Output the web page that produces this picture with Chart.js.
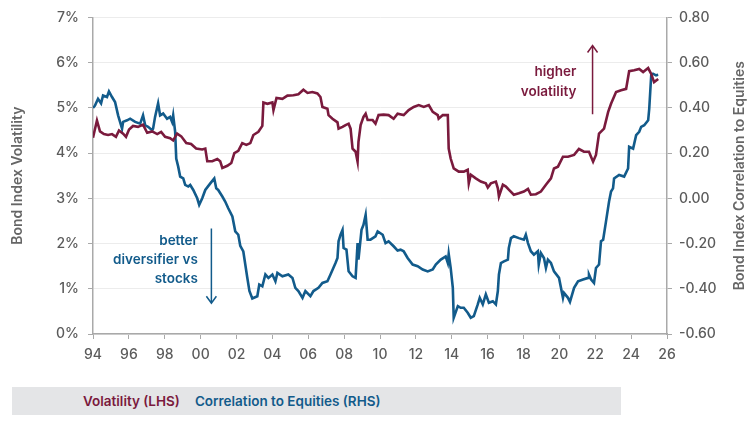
<!DOCTYPE html>
<html>
<head>
<meta charset="utf-8">
<script src="https://cdn.jsdelivr.net/npm/chart.js@4.4.1/dist/chart.umd.min.js"></script>
<style>
    body { margin: 0; background: #fff; }
    #wrap { position: relative; width: 750px; height: 431px; }
    #legend {
        position: absolute; left: 12px; top: 387px; width: 609px; height: 28px;
        background: #e4e5e7; font: 600 13.5px Inter, sans-serif; line-height: 28px;
        box-sizing: border-box; padding-left: 71px; white-space: nowrap;
    }
    #legend span { margin-right: 15px; }
</style>
</head>
<body>
<div id="wrap">
    <canvas id="bondChart" width="750" height="431"></canvas>
    <div id="legend">
        <span style="color:#7a1a3d">Volatility (LHS)</span><span style="color:#125b8b">Correlation to Equities (RHS)</span>
    </div>
</div>
<script>
// Series data (decimal year, value)
const volYears = [
    1994.00, 1994.22, 1994.39, 1994.61, 1994.84, 1995.06, 1995.28, 1995.45, 1995.68, 1995.84,
    1996.01, 1996.23, 1996.51, 1996.79, 1997.02, 1997.30, 1997.58, 1997.80, 1998.02, 1998.30,
    1998.47, 1998.69, 1998.92, 1999.20, 1999.47, 1999.75, 2000.09, 2000.26, 2000.37, 2000.65,
    2000.93, 2001.09, 2001.21, 2001.49, 2001.71, 2001.88, 2002.10, 2002.32, 2002.55, 2002.77,
    2002.94, 2003.22, 2003.44, 2003.50, 2003.72, 2004.00, 2004.06, 2004.23, 2004.56, 2004.84,
    2005.17, 2005.45, 2005.73, 2005.96, 2006.23, 2006.51, 2006.68, 2006.79, 2007.07, 2007.13,
    2007.35, 2007.63, 2007.69, 2007.91, 2008.08, 2008.25, 2008.36, 2008.47, 2008.64, 2008.75,
    2008.80, 2008.92, 2009.08, 2009.20, 2009.31, 2009.59, 2009.75, 2009.92, 2010.20, 2010.48,
    2010.76, 2010.98, 2011.32, 2011.60, 2011.88, 2012.16, 2012.44, 2012.72, 2012.94, 2013.22,
    2013.27, 2013.50, 2013.78, 2013.83, 2013.94, 2014.11, 2014.39, 2014.67, 2014.89, 2014.95,
    2015.06, 2015.34, 2015.62, 2015.90, 2016.01, 2016.18, 2016.46, 2016.57, 2016.63, 2016.85,
    2017.02, 2017.18, 2017.46, 2017.74, 2018.02, 2018.25, 2018.41, 2018.69, 2018.97, 2019.25,
    2019.53, 2019.70, 2019.92, 2020.20, 2020.48, 2020.82, 2021.09, 2021.37, 2021.65, 2021.88,
    2022.04, 2022.21, 2022.49, 2022.72, 2022.88, 2023.16, 2023.44, 2023.72, 2023.89, 2024.17,
    2024.45, 2024.67, 2024.95, 2025.12, 2025.28, 2025.51
];
const volValues = [
    4.34, 4.72, 4.48, 4.42, 4.40, 4.42, 4.36, 4.50, 4.43, 4.36,
    4.52, 4.60, 4.58, 4.63, 4.45, 4.48, 4.42, 4.47, 4.36, 4.33,
    4.28, 4.43, 4.37, 4.22, 4.20, 4.10, 4.08, 4.10, 3.82, 3.82,
    3.87, 3.82, 3.67, 3.72, 3.78, 4.00, 4.05, 4.22, 4.18, 4.22,
    4.40, 4.47, 4.60, 5.12, 5.09, 5.12, 4.95, 5.22, 5.20, 5.27,
    5.28, 5.30, 5.40, 5.33, 5.35, 5.32, 5.24, 5.02, 4.98, 4.84,
    4.76, 4.68, 4.54, 4.58, 4.62, 4.65, 4.54, 4.10, 4.03, 3.81,
    4.25, 4.62, 4.80, 4.87, 4.73, 4.73, 4.65, 4.84, 4.85, 4.84,
    4.76, 4.87, 4.84, 4.95, 5.02, 5.06, 5.02, 5.06, 4.91, 4.84,
    4.76, 4.84, 4.84, 4.10, 3.88, 3.66, 3.59, 3.59, 3.63, 3.33,
    3.52, 3.44, 3.37, 3.33, 3.24, 3.33, 3.37, 3.22, 3.04, 3.30,
    3.26, 3.19, 3.08, 3.11, 3.15, 3.21, 3.08, 3.09, 3.15, 3.30,
    3.44, 3.66, 3.70, 3.92, 3.92, 3.96, 4.09, 4.03, 4.03, 3.81,
    3.96, 4.43, 4.54, 4.91, 5.09, 5.35, 5.39, 5.42, 5.81, 5.83,
    5.86, 5.79, 5.88, 5.75, 5.57, 5.64
];
const corrYears = [
    1994.00, 1994.11, 1994.28, 1994.45, 1994.56, 1994.78, 1994.89, 1995.06, 1995.23, 1995.40,
    1995.62, 1995.68, 1995.90, 1996.07, 1996.35, 1996.63, 1996.79, 1996.91, 1997.07, 1997.30,
    1997.35, 1997.46, 1997.63, 1997.74, 1997.91, 1998.13, 1998.30, 1998.41, 1998.47, 1998.58,
    1998.64, 1998.75, 1998.86, 1999.03, 1999.14, 1999.31, 1999.42, 1999.59, 1999.81, 1999.92,
    2000.09, 2000.26, 2000.54, 2000.76, 2000.87, 2000.98, 2001.21, 2001.37, 2001.54, 2001.77,
    2001.93, 2002.10, 2002.21, 2002.38, 2002.60, 2002.72, 2002.88, 2003.16, 2003.27, 2003.44,
    2003.61, 2003.78, 2004.00, 2004.17, 2004.28, 2004.56, 2004.89, 2005.12, 2005.28, 2005.45,
    2005.68, 2005.84, 2006.12, 2006.29, 2006.57, 2006.79, 2007.07, 2007.24, 2007.52, 2007.63,
    2007.69, 2007.80, 2007.91, 2007.97, 2008.13, 2008.25, 2008.47, 2008.64, 2008.75, 2008.80,
    2008.97, 2009.08, 2009.20, 2009.31, 2009.47, 2009.75, 2009.87, 2010.15, 2010.31, 2010.48,
    2010.76, 2010.98, 2011.15, 2011.32, 2011.54, 2011.82, 2012.10, 2012.38, 2012.66, 2012.94,
    2013.11, 2013.39, 2013.66, 2013.78, 2013.83, 2013.94, 2014.06, 2014.11, 2014.34, 2014.50,
    2014.67, 2014.89, 2015.06, 2015.23, 2015.45, 2015.56, 2015.73, 2015.90, 2016.07, 2016.29,
    2016.46, 2016.57, 2016.63, 2016.74, 2016.91, 2017.13, 2017.18, 2017.30, 2017.46, 2017.74,
    2018.02, 2018.13, 2018.25, 2018.41, 2018.58, 2018.80, 2018.85, 2018.97, 2019.14, 2019.25,
    2019.36, 2019.53, 2019.70, 2019.98, 2020.20, 2020.26, 2020.48, 2020.59, 2020.82, 2021.04,
    2021.32, 2021.60, 2021.65, 2021.77, 2021.93, 2022.04, 2022.21, 2022.32, 2022.44, 2022.60,
    2022.77, 2022.88, 2022.99, 2023.05, 2023.33, 2023.61, 2023.83, 2023.89, 2024.11, 2024.28,
    2024.45, 2024.56, 2024.73, 2024.95, 2025.01, 2025.12, 2025.22, 2025.39, 2025.51
];
const corrValues = [
    0.400, 0.410, 0.440, 0.420, 0.455, 0.448, 0.473, 0.448, 0.426, 0.367,
    0.308, 0.338, 0.345, 0.352, 0.338, 0.330, 0.367, 0.323, 0.316, 0.301,
    0.308, 0.360, 0.420, 0.367, 0.375, 0.352, 0.360, 0.338, 0.367, 0.294,
    0.176, 0.140, 0.096, 0.088, 0.059, 0.052, 0.059, 0.037, 0.000, -0.029,
    0.000, 0.037, 0.066, 0.088, 0.044, 0.037, 0.008, -0.014, -0.044, -0.080,
    -0.146, -0.161, -0.210, -0.235, -0.350, -0.410, -0.443, -0.433, -0.381, -0.389,
    -0.337, -0.352, -0.337, -0.367, -0.330, -0.345, -0.337, -0.352, -0.396, -0.410,
    -0.440, -0.410, -0.433, -0.410, -0.396, -0.374, -0.367, -0.337, -0.286, -0.264,
    -0.190, -0.161, -0.140, -0.220, -0.227, -0.323, -0.345, -0.352, -0.198, -0.271,
    -0.139, -0.117, -0.073, -0.183, -0.183, -0.168, -0.146, -0.161, -0.198, -0.190,
    -0.212, -0.231, -0.227, -0.234, -0.264, -0.293, -0.300, -0.315, -0.323, -0.315,
    -0.293, -0.271, -0.257, -0.286, -0.246, -0.308, -0.396, -0.528, -0.477, -0.484,
    -0.484, -0.506, -0.528, -0.521, -0.469, -0.440, -0.469, -0.425, -0.462, -0.455,
    -0.469, -0.410, -0.337, -0.286, -0.279, -0.271, -0.220, -0.176, -0.168, -0.176,
    -0.183, -0.161, -0.198, -0.234, -0.249, -0.234, -0.293, -0.242, -0.264, -0.308,
    -0.271, -0.286, -0.323, -0.352, -0.440, -0.418, -0.440, -0.458, -0.396, -0.367,
    -0.359, -0.352, -0.337, -0.359, -0.374, -0.308, -0.293, -0.190, -0.183, -0.102,
    -0.014, 0.030, 0.044, 0.088, 0.103, 0.096, 0.132, 0.228, 0.220, 0.279,
    0.294, 0.316, 0.323, 0.345, 0.396, 0.544, 0.551, 0.544, 0.546
];

const MAROON = '#7a1a3d';
const BLUE = '#125b8b';
const AXIS = '#a9a9a9';
const TICK_TEXT = '#5b5b5b';

// annotation text + arrows, placed in data units
const notes = [
    { lines: ['higher', 'volatility'], x: 2020.95, y: [5.79, 5.35], color: MAROON,
      arrow: { x: 2021.85, from: 4.86, to: 6.38 } },
    { lines: ['better', 'diversifier vs', 'stocks'], x: 1999.85, y: [2.05, 1.63, 1.21], color: BLUE,
      arrow: { x: 2000.6, from: 2.33, to: 0.68 } }
];

const extras = {
    id: 'extras',
    afterDraw(chart) {
        const c = chart.ctx;
        const xs = chart.scales.x, ys = chart.scales.y;
        c.save();
        // axis titles, both reading bottom-to-top
        c.fillStyle = '#666';
        c.font = '600 14px Inter, sans-serif';
        c.textAlign = 'center';
        c.textBaseline = 'middle';
        const mid = (chart.chartArea.top + chart.chartArea.bottom) / 2;
        [[18, 'Bond Index Volatility'], [740, 'Bond Index Correlation to Equities']].forEach(([tx, t]) => {
            c.save();
            c.translate(tx, mid);
            c.rotate(-Math.PI / 2);
            c.fillText(t, 0, 0);
            c.restore();
        });

        // annotations
        c.font = '600 13.5px Inter, sans-serif';
        c.textAlign = 'right';
        notes.forEach(n => {
            c.fillStyle = n.color;
            n.lines.forEach((t, i) => c.fillText(t, xs.getPixelForValue(n.x), ys.getPixelForValue(n.y[i])));
            const ax = xs.getPixelForValue(n.arrow.x);
            const y0 = ys.getPixelForValue(n.arrow.from);
            const y1 = ys.getPixelForValue(n.arrow.to);
            const dir = y1 < y0 ? 1 : -1;
            c.strokeStyle = n.color;
            c.lineWidth = 1.5;
            c.beginPath();
            c.moveTo(ax, y0);
            c.lineTo(ax, y1);
            c.moveTo(ax - 5, y1 + dir * 7);
            c.lineTo(ax, y1);
            c.lineTo(ax + 5, y1 + dir * 7);
            c.stroke();
        });
        c.restore();
    }
};

const tickFont = { family: 'Inter, sans-serif', size: 14, weight: '500' };

new Chart(document.getElementById('bondChart'), {
    type: 'line',
    data: {
        datasets: [
            {
                label: 'Volatility (LHS)',
                data: volYears.map((yr, i) => ({ x: yr, y: volValues[i] })),
                borderColor: MAROON,
                borderWidth: 2.6,
                pointRadius: 0,
                yAxisID: 'y'
            },
            {
                label: 'Correlation to Equities (RHS)',
                data: corrYears.map((yr, i) => ({ x: yr, y: corrValues[i] })),
                borderColor: BLUE,
                borderWidth: 2.6,
                pointRadius: 0,
                yAxisID: 'y1'
            }
        ]
    },
    options: {
        responsive: false,
        animation: false,
        layout: { padding: { top: 13, bottom: 0, left: 0, right: 0 } },
        plugins: {
            legend: { display: false },
            tooltip: { enabled: false }
        },
        scales: {
            x: {
                type: 'linear',
                min: 1994,
                max: 2026,
                afterFit: s => { s.height = 97; },
                border: { color: AXIS, width: 1.5 },
                grid: { drawOnChartArea: false, tickColor: AXIS, tickLength: 5 },
                ticks: {
                    stepSize: 2,
                    padding: 7,
                    color: TICK_TEXT,
                    font: tickFont,
                    maxRotation: 0,
                    callback: v => String(v).slice(2)
                }
            },
            y: {
                position: 'left',
                min: 0,
                max: 7,
                afterFit: s => { s.width = 93; },
                border: { color: AXIS, width: 1.5 },
                grid: { color: '#ececec', tickColor: AXIS, tickLength: 5 },
                ticks: {
                    stepSize: 1,
                    padding: 9,
                    color: TICK_TEXT,
                    font: tickFont,
                    callback: v => v + '%'
                }
            },
            y1: {
                position: 'right',
                min: -0.6,
                max: 0.8,
                afterFit: s => { s.width = 83; },
                border: { color: AXIS, width: 1.5 },
                grid: { drawOnChartArea: false, tickColor: AXIS, tickLength: 5 },
                ticks: {
                    stepSize: 0.2,
                    padding: 7,
                    color: TICK_TEXT,
                    font: tickFont,
                    callback: v => v.toFixed(2)
                }
            }
        }
    },
    plugins: [extras]
});
</script>
</body>
</html>
